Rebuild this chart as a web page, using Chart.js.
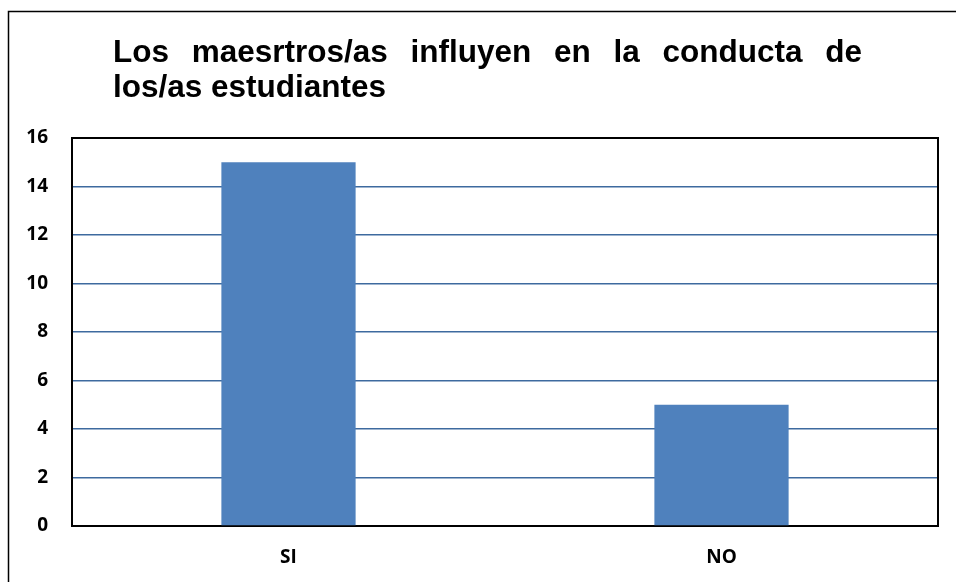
<!DOCTYPE html>
<html lang="es">
<head>
    <meta charset="UTF-8">
    <title>Los maesrtros/as influyen en la conducta de los/as estudiantes</title>
    <script src="https://cdn.jsdelivr.net/npm/chart.js"></script>
    <style>
        body { margin: 0; background: #fff; }
        canvas { display: block; }
    </style>
</head>
<body>
    <canvas id="conductaChart" width="956" height="582"></canvas>

    <script>
        // data
        const categories = ['SI', 'NO'];
        const respuestas = [15, 5];
        const yTicks = [0, 2, 4, 6, 8, 10, 12, 14, 16];
        const titleLines = ['Los maesrtros/as influyen en la conducta de', 'los/as estudiantes'];

        const labelFont = { family: '"Open Sans", Lato, sans-serif', size: 19, weight: 'bold' };

        // outer frame + justified title + box around plot area
        const decorPlugin = {
            id: 'decor',
            afterDraw(chart) {
                const ctx = chart.ctx;
                const area = chart.chartArea;
                ctx.save();

                ctx.strokeStyle = '#000';
                ctx.lineWidth = 1.5;
                ctx.strokeRect(8.5, 11.5, 970, 600);

                ctx.lineWidth = 2;
                ctx.beginPath();
                ctx.moveTo(area.left, area.top);
                ctx.lineTo(area.right, area.top);
                ctx.lineTo(area.right, area.bottom);
                ctx.stroke();

                // title, first line justified like in the original
                ctx.fillStyle = '#000';
                ctx.font = 'bold 31.5px "Liberation Sans", Arial, sans-serif';
                ctx.textBaseline = 'alphabetic';
                const x0 = 113, x1 = 862;
                const words = titleLines[0].split(' ');
                const wordsWidth = words.reduce((s, w) => s + ctx.measureText(w).width, 0);
                const gap = (x1 - x0 - wordsWidth) / (words.length - 1);
                let x = x0;
                words.forEach(w => {
                    ctx.fillText(w, x, 62);
                    x += ctx.measureText(w).width + gap;
                });
                ctx.fillText(titleLines[1], x0, 97);

                ctx.restore();
            }
        };

        const ctx = document.getElementById('conductaChart').getContext('2d');
        new Chart(ctx, {
            type: 'bar',
            data: {
                labels: categories,
                datasets: [{
                    data: respuestas,
                    backgroundColor: '#4F81BD',
                    borderWidth: 0,
                    categoryPercentage: 1,
                    barPercentage: 0.31
                }]
            },
            options: {
                responsive: false,
                animation: false,
                layout: { padding: { top: 138, right: 18, left: 0, bottom: 0 } },
                plugins: {
                    legend: { display: false },
                    title: { display: false },
                    tooltip: { enabled: false }
                },
                scales: {
                    x: {
                        grid: { display: false, drawTicks: false },
                        border: { color: '#000', width: 2 },
                        ticks: { color: '#000', font: labelFont, padding: 20 },
                        afterFit: s => { s.height = 56; }
                    },
                    y: {
                        min: 0,
                        max: 16,
                        afterBuildTicks: s => { s.ticks = yTicks.map(v => ({ value: v })); },
                        grid: { color: '#3E6A9F', lineWidth: 1.5, drawTicks: false },
                        border: { color: '#000', width: 2 },
                        ticks: { color: '#000', font: labelFont, padding: 24 },
                        afterFit: s => { s.width = 72; }
                    }
                }
            },
            plugins: [decorPlugin]
        });
    </script>
</body>
</html>
